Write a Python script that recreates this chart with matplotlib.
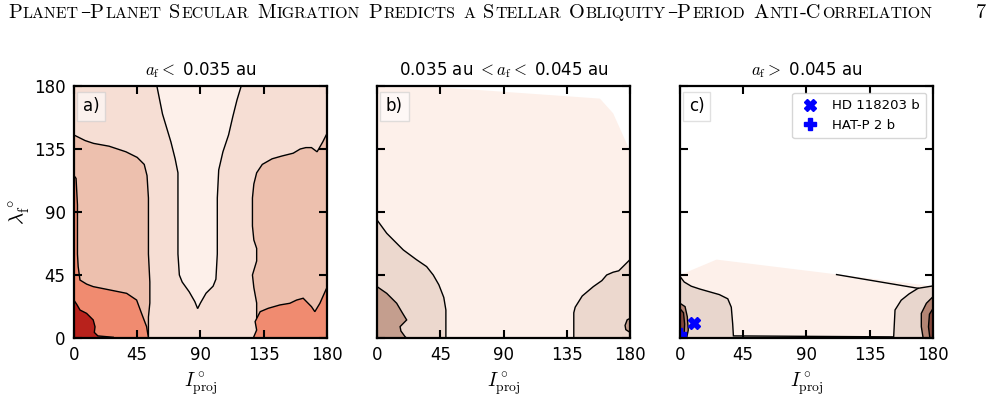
import matplotlib
matplotlib.use("Agg")
import matplotlib.pyplot as plt
from matplotlib.transforms import IdentityTransform

plt.rcParams["mathtext.fontset"] = "cm"
plt.rcParams["font.family"] = "DejaVu Sans"

header = "Planet–Planet Secular Migration Predicts a Stellar Obliquity–Period Anti-Correlation"
page_number = "7"

titles = [r"$a_\mathrm{f} <$ 0.035 au",
          r"0.035 au $< a_\mathrm{f} <$ 0.045 au",
          r"$a_\mathrm{f} >$ 0.045 au"]
tags = ["a)", "b)", "c)"]
ticks = [0, 45, 90, 135, 180]

# contour regions, (I_proj, lambda_f) in degrees
# panel a
a_hull_x = [0, 180, 180, 0]
a_hull_y = [0, 0, 180, 180]
a_l0_x = [59, 61, 63, 66, 69, 72, 74, 74, 74, 74, 75, 77, 82, 86, 88, 90, 94, 99, 101, 102, 102, 102, 103, 106, 110, 113, 116, 119]
a_l0_y = [180, 170, 160, 150, 140, 128, 118, 100, 80, 60, 45, 40, 33, 26, 21, 25, 32, 37, 42, 60, 80, 100, 120, 133, 145, 158, 170, 180]
a_l2L_x = [0, 0, 8, 14, 25, 37, 45, 50, 52, 53, 53, 53, 54, 54, 53, 53]
a_l2L_y = [0, 145, 141, 139, 137, 133, 129, 124, 116, 100, 80, 60, 40, 25, 15, 0]
a_l2R_x = [180, 180, 177, 173, 169, 165, 161, 156, 148, 141, 134, 130, 128, 127, 127, 128, 130, 130, 127, 128, 130, 130]
a_l2R_y = [0, 146, 140, 133, 136, 136, 135, 132, 130, 128, 124, 118, 110, 100, 80, 70, 64, 55, 45, 36, 25, 0]
a_l3L_x = [0, 0, 1.5, 2.5, 2.5, 3, 4.3, 9, 13.7, 25.6, 37.5, 44.6, 48.1, 51.7, 53]
a_l3L_y = [0, 116, 114, 95, 60, 51, 41.4, 38.5, 36.7, 34.3, 31.9, 27.1, 17.6, 8.1, 0]
a_l3R_x = [127.6, 130, 128.9, 132.5, 138.2, 146.5, 153.6, 158.4, 163.1, 169, 171.4, 175, 179.2, 180, 180]
a_l3R_y = [0, 5.7, 11.7, 18.8, 21.2, 23.6, 24.8, 27.1, 28.4, 22.4, 18.8, 24.8, 34.3, 36, 0]
a_l4_x = [0, 0, 2, 4.3, 9, 13.7, 15, 14.5, 17, 28, 28]
a_l4_y = [0, 27, 24, 20, 17.6, 12.9, 8, 4, 1.5, 0.5, 0]
a_colors = ["#fdf0ea", "#f6ded4", "#edc0ae", "#f08b70", "#b8221c"]

# panel b
b_hull_x = [0, 0, 46, 158.6, 168, 177.6, 180, 180]
b_hull_y = [0, 180, 179, 171, 160.5, 139, 134, 0]
b_l1L_x = [0, 0, 6.9, 18.7, 28, 35.3, 40, 44, 47.5, 49, 49]
b_l1L_y = [0, 84.3, 74.8, 62.9, 56, 51, 45, 38, 29, 20, 0]
b_l1R_x = [140, 140, 141, 146, 153.9, 160, 163.4, 168, 172, 176, 180, 180]
b_l1R_y = [0, 18, 22, 30, 36.7, 41, 45, 47, 48, 52, 56, 0]
b_l2L_x = [0, 0, 6.9, 14, 18, 21.1, 16.4, 17, 19.9, 21]
b_l2L_y = [0, 36.7, 31.9, 24.8, 18, 12.9, 8.1, 5, 1, 0]
b_l2R_x = [180, 177, 176.5, 178, 180]
b_l2R_y = [4, 6, 9, 13, 14]
b_colors = ["#fdf0ea", "#ecd8ce", "#c49e8e"]

# panel c
c_hull_x = [0, 0, 26, 180, 180]
c_hull_y = [0, 45, 56, 37, 0]
c_l1L_x = [0, 0, 3, 8, 14, 21, 28, 34, 36.5, 37.5, 38, 152, 152]
c_l1L_y = [0, 44, 40, 37, 35, 33, 31, 28, 22, 10, 1.5, 0.8, 0]
c_l1R_x = [152, 152.5, 153, 157.4, 163, 169.4, 180, 180]
c_l1R_y = [0, 10, 20, 27, 31.5, 35.5, 37.2, 0]
c_edge_x = [111.4, 169.4]
c_edge_y = [45.3, 35.5]
c_l2L_x = [0, 0, 3.6, 5.2, 5.9, 4.7]
c_l2L_y = [0, 24.8, 22.4, 15.2, 5.7, 0]
c_l2R_x = [180, 180, 175.3, 171.7, 171.7, 173]
c_l2R_y = [0, 29.5, 24.8, 17.6, 8.1, 0]
c_l3L_x = [0, 0, 2.5, 3.3, 2.8]
c_l3L_y = [0, 21, 18, 10, 0]
c_l3R_x = [180, 180, 177.5, 176.8, 177.8]
c_l3R_y = [0, 21, 17, 8, 0]
c_colors = ["#fdf0ea", "#e8d6cd", "#b48574", "#84463a"]

planet_names = ["HD 118203 b", "HAT-P 2 b"]
planet_I = [10.1, 0.0]
planet_lam = [10.5, 3.2]
planet_markers = ["X", "P"]

panels = [
    [(a_hull_x, a_hull_y, a_colors[1], False), (a_l0_x, a_l0_y, a_colors[0], True),
     (a_l2L_x, a_l2L_y, a_colors[2], True), (a_l2R_x, a_l2R_y, a_colors[2], True),
     (a_l3L_x, a_l3L_y, a_colors[3], True), (a_l3R_x, a_l3R_y, a_colors[3], True),
     (a_l4_x, a_l4_y, a_colors[4], True)],
    [(b_hull_x, b_hull_y, b_colors[0], False),
     (b_l1L_x, b_l1L_y, b_colors[1], True), (b_l1R_x, b_l1R_y, b_colors[1], True),
     (b_l2L_x, b_l2L_y, b_colors[2], True), (b_l2R_x, b_l2R_y, b_colors[2], True)],
    [(c_hull_x, c_hull_y, c_colors[0], False),
     (c_l1L_x, c_l1L_y, c_colors[1], True), (c_l1R_x, c_l1R_y, c_colors[1], True),
     (c_l2L_x, c_l2L_y, c_colors[2], True), (c_l2R_x, c_l2R_y, c_colors[2], True),
     (c_l3L_x, c_l3L_y, c_colors[3], True), (c_l3R_x, c_l3R_y, c_colors[3], True)],
]

fig = plt.figure(figsize=(9.94, 4.03), dpi=100)
lefts = [0.0744, 0.3793, 0.6841]

for i, regions in enumerate(panels):
    ax = fig.add_axes([lefts[i], 0.1613, 0.2545, 0.6253])
    for xs, ys, col, edge in regions:
        ax.fill(xs, ys, facecolor=col, edgecolor="black" if edge else "none", lw=1.0)
    if i == 2:
        ax.plot(c_edge_x, c_edge_y, color="black", lw=1.0)
        for name, px, py, m in zip(planet_names, planet_I, planet_lam, planet_markers):
            ax.plot(px, py, m, color="blue", ms=8, ls="none", label=name)
        leg = ax.legend(loc="upper right", fontsize=9.5, framealpha=0.8, borderpad=0.5,
                        handlelength=1.6, handletextpad=0.9)
        leg.get_frame().set_edgecolor("#cccccc")
    ax.set_xlim(0, 180)
    ax.set_ylim(0, 180)
    ax.set_xticks(ticks)
    ax.set_yticks(ticks)
    ax.tick_params(direction="in", top=True, right=True, length=6, width=1.5, labelsize=12, pad=6)
    for sp in ax.spines.values():
        sp.set_linewidth(1.6)
    if i > 0:
        ax.set_yticklabels([])
    else:
        ax.set_ylabel(r"$\lambda^\circ_\mathrm{f}$", fontsize=15)
        ax.yaxis.set_label_coords(-0.165, 0.5)
    ax.set_xlabel(r"$I^\circ_\mathrm{proj}$", fontsize=14)
    ax.xaxis.set_label_coords(0.5, -0.13)
    ax.set_title(titles[i], fontsize=12, pad=8)
    ax.text(0.035, 0.955, tags[i], transform=ax.transAxes, fontsize=12, va="top", ha="left",
            bbox=dict(boxstyle="square,pad=0.35", facecolor="white", edgecolor="#cccccc", alpha=0.6))

# running header in small caps
renderer = fig.canvas.get_renderer()
serif = ["cmr10", "DejaVu Serif"]


def small_caps(x0, y, size, draw=True):
    x = x0
    made = []
    for w, word in enumerate(header.split(" ")):
        if w > 0:
            x += size * 100 / 72 * 0.33
        runs = []
        for ch in word:
            big = not ch.islower()
            if runs and runs[-1][1] == big:
                runs[-1][0] += ch
            else:
                runs.append([ch, big])
        for s, big in runs:
            if s == "–":
                x -= 4
            t = fig.text(x, y, s.upper(), fontsize=size if big else size * 0.78,
                         family=serif, transform=IdentityTransform(), va="baseline")
            x += t.get_window_extent(renderer=renderer).width + 1.2
            if s == "–":
                x -= 2
            made.append(t)
    if not draw:
        for t in made:
            t.remove()
    return x - x0


size = 13
width = small_caps(8, 403 - 18, size, draw=False)
size = size * 925 / width
small_caps(8, 403 - 18, size)
fig.text(986, 403 - 18, page_number, fontsize=size, family=serif,
         transform=IdentityTransform(), ha="right", va="baseline")

fig.savefig("out.png", dpi=100)
